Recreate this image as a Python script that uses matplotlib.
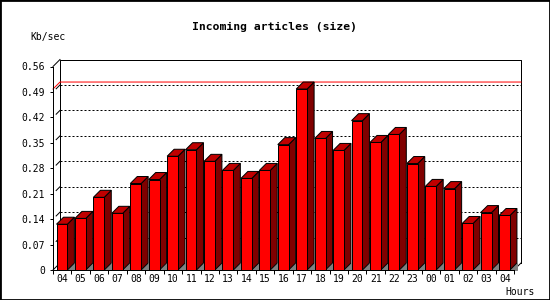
import matplotlib
matplotlib.use('Agg')
import matplotlib.pyplot as plt
from matplotlib.patches import Rectangle, Polygon
import numpy as np

# Data: incoming article volume per hour (Kb/sec)
hours = ['04', '05', '06', '07', '08', '09', '10', '11', '12', '13', '14', '15', '16',
         '17', '18', '19', '20', '21', '22', '23', '00', '01', '02', '03', '04']
kbps = [0.126, 0.142, 0.200, 0.156, 0.238, 0.249, 0.313, 0.331, 0.299, 0.274, 0.252,
        0.274, 0.345, 0.498, 0.362, 0.329, 0.411, 0.351, 0.373, 0.293, 0.230, 0.224,
        0.128, 0.158, 0.150]
y_ticks = [0, 0.07, 0.14, 0.21, 0.28, 0.35, 0.42, 0.49, 0.56]
y_tick_labels = ['0', '0.07', '0.14', '0.21', '0.28', '0.35', '0.42', '0.49', '0.56']

W, H = 550, 300
DEPTH = 7          # 3d depth in pixels
BAR_OFF, BAR_W = 0.19, 0.59
LW = 0.72          # ~1 px
MONO = 'DejaVu Sans Mono'

fig = plt.figure(figsize=(W / 100, H / 100), dpi=100)
fig.patch.set_facecolor('white')
ax = fig.add_axes([53 / W, 30 / H, (514 - 53) / W, (270 - 66.5) / H])
ax.set_xlim(0, len(kbps))
ax.set_ylim(y_ticks[0], y_ticks[-1])
ax.patch.set_alpha(0)

# depth offset converted into data units
inv = ax.transData.inverted()
p0 = ax.transData.transform((0, 0))
dx, dy = inv.transform(p0 + DEPTH) - inv.transform(p0)

n = len(kbps)
ytop = y_ticks[-1]
kw = dict(clip_on=False, lw=LW)

# back wall frame + connecting diagonals
ax.plot([dx, dx, n + dx, n + dx], [dy, ytop + dy, ytop + dy, dy], color='black', zorder=1, **kw)
ax.plot([0, dx], [ytop, ytop + dy], color='black', zorder=1, **kw)
ax.plot([0, dx], [0, dy], color='black', zorder=1, **kw)
ax.plot([n, n + dx], [0, dy], color='black', zorder=1, **kw)

# dotted grid on the back wall
for t in y_ticks[1:-1]:
    ax.plot([dx, n + dx], [t + dy, t + dy], color='black', linestyle=(0, (2, 2)), zorder=1, **kw)
    ax.plot([0.45 * dx, dx], [t + 0.45 * dy, t + dy], color='black', zorder=1, **kw)

# max line
m = max(kbps)
ax.plot([0, dx, n + dx], [m, m + dy, m + dy], color='red', zorder=1.5, **kw)

# 3d bars
for i, v in enumerate(kbps):
    x0 = i + BAR_OFF
    x1 = x0 + BAR_W
    ax.add_patch(Polygon([(x1, 0), (x1 + dx, 0), (x1 + dx, dy)], closed=True,
                         fc='#808080', ec='#808080', zorder=2, **kw))
    ax.add_patch(Polygon([(x1, 0), (x1 + dx, dy), (x1 + dx, v + dy), (x1, v)], closed=True,
                         fc='#800000', ec='black', zorder=3, **kw))
    ax.add_patch(Polygon([(x0, v), (x0 + dx, v + dy), (x1 + dx, v + dy), (x1, v)], closed=True,
                         fc='#c00000', ec='black', zorder=3, **kw))
    ax.add_patch(Rectangle((x0, 0), BAR_W, v, fc='#ff0000', ec='black', zorder=4, **kw))

# axes
for s in ['top', 'right']:
    ax.spines[s].set_visible(False)
for s in ['left', 'bottom']:
    ax.spines[s].set_linewidth(LW)
    ax.spines[s].set_zorder(5)

ax.set_yticks(y_ticks)
ax.set_yticklabels(y_tick_labels, fontfamily=MONO, fontsize=7)
ax.tick_params(axis='y', direction='out', length=2.2, width=LW, pad=3.6)

ax.set_xticks(np.arange(n + 1))
ax.set_xticklabels([])
ax.set_xticks(np.arange(n) + 0.5, minor=True)
ax.set_xticklabels(hours, minor=True, fontfamily=MONO, fontsize=7)
ax.tick_params(axis='x', which='major', direction='out', length=2.9, width=LW)
ax.tick_params(axis='x', which='minor', length=0, pad=3)

# texts
fig.text(274 / W, 1 - 27 / H, 'Incoming articles (size)', ha='center', va='center',
         fontfamily=MONO, fontweight='bold', fontsize=8.2)
fig.text(30 / W, 1 - 37 / H, 'Kb/sec', ha='left', va='center', fontfamily=MONO, fontsize=7)
fig.text(505 / W, 1 - 292 / H, 'Hours', ha='left', va='center', fontfamily=MONO, fontsize=7)

# image border
fig.add_artist(Rectangle((0, 0), 1, 1, transform=fig.transFigure, fill=False,
                         ec='black', lw=2))

fig.savefig('out.png', dpi=100)
